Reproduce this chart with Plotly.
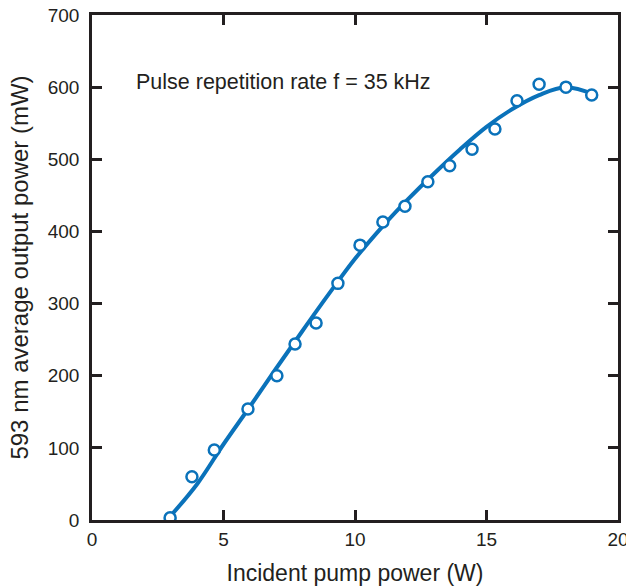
import plotly.graph_objects as go

# Measured data points
pump_w = [2.97, 3.80, 4.65, 5.93, 7.03, 7.72, 8.52, 9.35, 10.19, 11.06, 11.90,
          12.77, 13.60, 14.45, 15.32, 16.16, 17.00, 18.02, 19.00]
power_mw = [3, 60, 97, 154, 200, 244, 273, 328, 381, 413, 435,
            469, 491, 514, 542, 581, 604, 600, 589]

# Fitted curve
fit_x = [2.85, 4, 5, 6, 7, 8, 9, 10, 11, 12, 13, 14, 15, 16, 17, 18, 19.1]
fit_y = [0, 50, 105, 157, 210, 262, 313, 362, 405, 444, 480, 514, 545, 570, 589, 600, 590]

x_ticks = [0, 5, 10, 15, 20]
y_ticks = [0, 100, 200, 300, 400, 500, 600, 700]

blue = "#0a72ba"
ink = "#231f20"
font = "Liberation Sans, Arial, sans-serif"

fig = go.Figure()
fig.add_trace(go.Scatter(x=fit_x, y=fit_y, mode="lines",
                         line=dict(color=blue, width=4, shape="spline", smoothing=1.0),
                         hoverinfo="skip", showlegend=False))
fig.add_trace(go.Scatter(x=pump_w, y=power_mw, mode="markers",
                         marker=dict(symbol="circle", size=11, color="white",
                                     line=dict(color=blue, width=2.5)),
                         showlegend=False))

fig.add_annotation(x=1.71, y=607, xref="x", yref="y", text="Pulse repetition rate f = 35 kHz",
                   showarrow=False, xanchor="left", yanchor="middle", xshift=-3,
                   font=dict(family=font, size=21.5, color=ink))

axis_common = dict(showgrid=False, zeroline=False, showline=True, linecolor=ink, linewidth=2.5,
                   ticks="inside", ticklen=10, tickwidth=2.5, tickcolor=ink, mirror="ticks",
                   automargin=False, ticklabeloverflow="allow",
                   tickfont=dict(family=font, size=19, color=ink))

fig.update_layout(
    width=626, height=587,
    margin=dict(l=92, r=8, t=15, b=67),
    paper_bgcolor="white", plot_bgcolor="white",
    xaxis=dict(range=[0, 20], tickvals=x_ticks, ticklabelstandoff=0,
               title=dict(text="Incident pump power (W)", font=dict(family=font, size=23, color=ink), standoff=17),
               **axis_common),
    yaxis=dict(range=[0, 700], tickvals=y_ticks, ticklabelstandoff=6,
               title=dict(text="593 nm average output power (mW)", font=dict(family=font, size=24, color=ink), standoff=13),
               **axis_common),
)

fig.write_html("out.html")
